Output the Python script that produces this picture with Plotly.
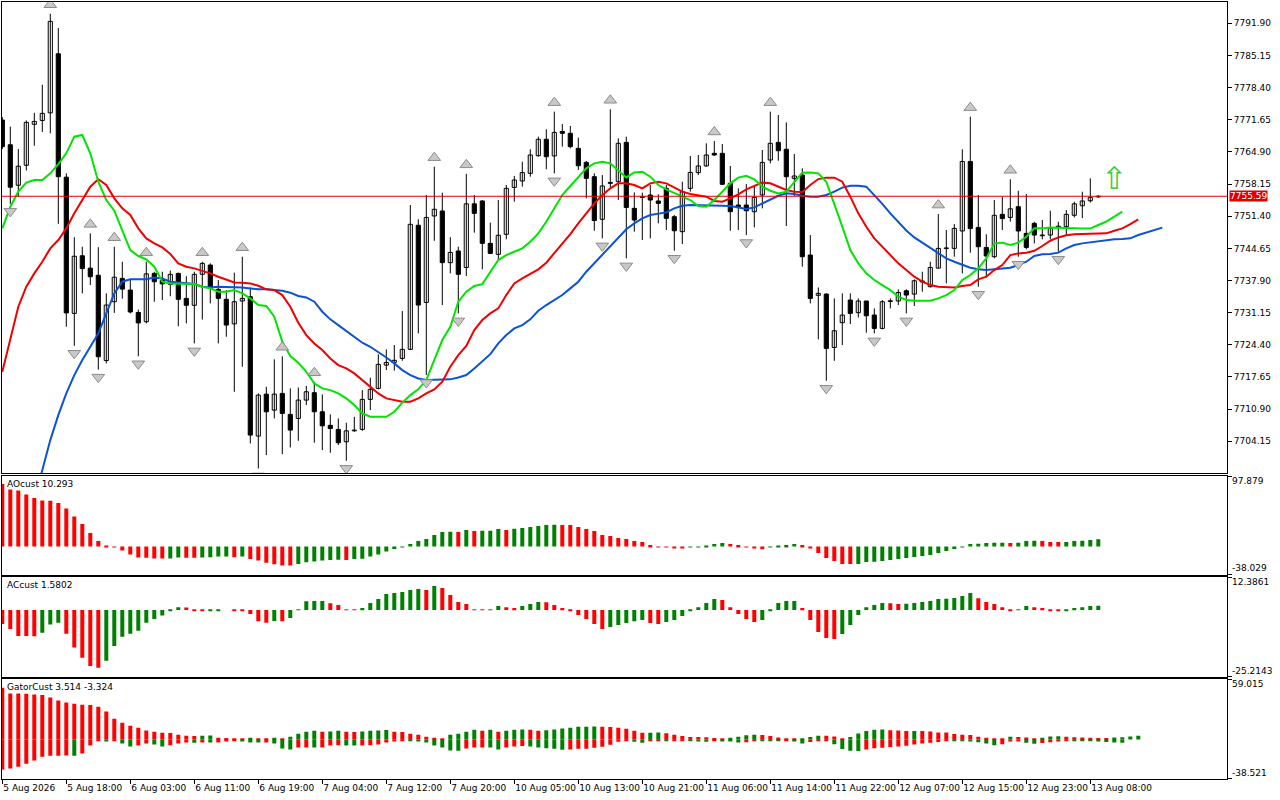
import plotly.graph_objects as go

# ---------------- data (H1 bars) ----------------
opens = [7771.6, 7766.4, 7757.9, 7762.1, 7770.7, 7771.5, 7773.1, 7785.5, 7759.6, 7731.0,
 7743.1, 7740.5, 7739.0, 7721.1, 7733.45, 7738.35, 7735.9, 7731.2, 7729.25, 7739.4,
 7738.0, 7737.1, 7739.4, 7734.15, 7732.7, 7739.2, 7741.15, 7736.05, 7733.95, 7728.8,
 7733.6, 7734.5, 7705.25, 7714.05, 7710.7, 7714.2, 7709.8, 7708.95, 7712.8, 7714.35,
 7710.35, 7707.5, 7706.65, 7704.05, 7706.35, 7706.65, 7712.95, 7715.25, 7720.15, 7720.7,
 7721.55, 7723.45, 7749.5, 7733.3, 7751.45, 7752.5, 7741.65, 7744.1, 7740.65, 7754.0,
 7754.6, 7745.7, 7743.4, 7747.6, 7757.45, 7758.8, 7760.4, 7764.1, 7767.55, 7764.05,
 7769.2, 7768.8, 7765.65, 7762.7, 7759.7, 7750.75, 7758.5, 7758.65, 7766.9, 7753.05,
 7755.35, 7755.85, 7754.6, 7757.25, 7751.3, 7748.15, 7757.25, 7760.55, 7761.95, 7764.6,
 7764.6, 7758.3, 7753.75, 7753.75, 7752.35, 7755.85, 7763.2, 7766.9, 7765.45, 7759.35,
 7760.05, 7743.25, 7734.8, 7735.05, 7723.85, 7729.05, 7733.8, 7731.15, 7733.6, 7730.65,
 7727.85, 7733.5, 7733.6, 7735.75, 7735.05, 7737.6, 7736.6, 7740.5, 7744.6, 7744.65,
 7748.3, 7762.9, 7749.05, 7744.85, 7742.9, 7751.8, 7751.15, 7753.4, 7747.8, 7749.9,
 7747.3, 7747.45, 7749.15, 7749.2, 7751.6, 7753.6, 7754.65, 7755.45]
highs = [7772.2, 7770.2, 7765.5, 7771.5, 7773.1, 7779.0, 7793.9, 7790.9, 7760.4, 7747.0,
 7745.0, 7747.8, 7744.9, 7735.2, 7745.0, 7741.85, 7738.0, 7731.8, 7741.85, 7739.75,
 7739.75, 7740.0, 7739.55, 7738.8, 7739.75, 7741.85, 7741.5, 7738.0, 7735.9, 7739.55,
 7742.9, 7736.45, 7714.2, 7715.6, 7721.35, 7722.0, 7715.25, 7715.45, 7715.8, 7716.65,
 7714.0, 7709.8, 7708.95, 7708.05, 7709.3, 7714.9, 7717.5, 7722.4, 7723.45, 7724.35,
 7731.5, 7753.75, 7750.75, 7755.85, 7761.8, 7756.35, 7747.0, 7745.0, 7760.3, 7755.85,
 7754.8, 7750.05, 7754.8, 7757.95, 7759.85, 7762.85, 7765.45, 7768.1, 7769.65, 7773.35,
 7770.75, 7770.35, 7767.9, 7763.0, 7760.4, 7760.05, 7773.85, 7767.75, 7768.1, 7756.4,
 7756.35, 7757.95, 7756.0, 7757.95, 7751.65, 7758.65, 7764.05, 7764.25, 7766.7, 7767.2,
 7766.55, 7761.95, 7757.25, 7758.15, 7757.6, 7765.3, 7773.35, 7772.65, 7771.1, 7764.45,
 7761.45, 7747.45, 7736.45, 7735.2, 7734.15, 7735.2, 7735.2, 7734.15, 7733.6, 7732.05,
 7733.8, 7734.15, 7736.05, 7736.05, 7738.15, 7739.75, 7741.85, 7751.85, 7748.5, 7749.75,
 7765.45, 7772.3, 7755.85, 7747.6, 7754.8, 7755.5, 7759.15, 7756.75, 7756.05, 7750.25,
 7750.6, 7752.55, 7750.25, 7752.7, 7754.45, 7756.55, 7759.35, 7755.8]
lows = [7765.5, 7754.0, 7755.5, 7761.0, 7766.2, 7769.1, 7768.8, 7749.8, 7728.2, 7724.2,
 7735.2, 7736.95, 7719.2, 7720.5, 7731.1, 7734.1, 7731.0, 7722.0, 7728.9, 7733.45,
 7733.8, 7734.6, 7728.3, 7728.9, 7724.7, 7729.7, 7733.1, 7724.7, 7726.1, 7714.55,
 7719.8, 7703.7, 7698.45, 7701.25, 7708.95, 7701.45, 7702.85, 7704.25, 7711.75, 7703.85,
 7702.3, 7701.75, 7703.35, 7700.05, 7706.15, 7706.35, 7710.7, 7715.05, 7719.1, 7719.0,
 7721.05, 7723.3, 7726.8, 7718.05, 7746.25, 7732.75, 7739.4, 7731.0, 7738.85, 7747.95,
 7740.25, 7743.45, 7742.2, 7746.55, 7754.45, 7757.6, 7759.7, 7763.9, 7761.25, 7760.4,
 7766.0, 7765.65, 7761.1, 7755.15, 7748.35, 7746.75, 7757.5, 7754.8, 7742.55, 7748.15,
 7746.4, 7746.75, 7749.9, 7748.5, 7744.15, 7745.55, 7756.55, 7760.05, 7761.8, 7764.05,
 7757.95, 7748.35, 7748.5, 7747.45, 7749.05, 7753.05, 7762.5, 7763.05, 7749.35, 7755.65,
 7740.8, 7733.1, 7725.55, 7716.85, 7721.05, 7724.35, 7728.75, 7730.15, 7726.95, 7726.8,
 7727.65, 7732.05, 7732.75, 7731.0, 7732.55, 7735.55, 7736.45, 7740.45, 7737.3, 7742.9,
 7739.4, 7743.75, 7736.6, 7738.55, 7742.55, 7748.5, 7750.25, 7742.9, 7744.45, 7745.7,
 7746.55, 7746.55, 7743.95, 7747.45, 7751.15, 7751.0, 7754.25, 7755.3]
closes = [7766.0, 7757.5, 7761.9, 7771.1, 7771.3, 7773.0, 7792.3, 7759.7, 7731.1, 7743.0,
 7740.4, 7738.7, 7721.9, 7732.75, 7738.6, 7736.1, 7731.3, 7729.0, 7739.3, 7737.65,
 7737.2, 7739.2, 7733.95, 7732.7, 7739.2, 7741.5, 7736.25, 7734.15, 7728.55, 7733.45,
 7734.15, 7705.45, 7713.85, 7710.35, 7714.05, 7710.0, 7706.5, 7712.8, 7714.55, 7710.35,
 7707.4, 7706.85, 7703.85, 7706.35, 7706.4, 7712.95, 7715.05, 7720.3, 7720.7, 7721.15,
 7723.45, 7749.7, 7732.75, 7751.15, 7752.85, 7741.65, 7743.8, 7739.2, 7754.0, 7752.0,
 7745.7, 7743.6, 7747.4, 7757.25, 7759.0, 7760.55, 7764.25, 7767.55, 7763.9, 7769.0,
 7768.8, 7766.0, 7762.0, 7759.35, 7750.5, 7757.75, 7758.3, 7766.7, 7753.25, 7750.6,
 7755.5, 7754.8, 7754.1, 7750.95, 7748.35, 7756.55, 7760.6, 7761.95, 7764.25, 7764.25,
 7758.1, 7752.35, 7753.4, 7752.55, 7755.35, 7762.7, 7766.7, 7765.15, 7759.7, 7759.85,
 7742.9, 7734.15, 7735.2, 7723.65, 7727.35, 7730.65, 7731.0, 7733.6, 7730.5, 7727.85,
 7733.45, 7733.65, 7735.4, 7734.85, 7737.85, 7737.8, 7740.65, 7744.65, 7744.7, 7748.85,
 7762.9, 7748.8, 7745.0, 7743.05, 7751.6, 7750.9, 7752.95, 7748.3, 7744.85, 7747.45,
 7747.45, 7748.85, 7749.3, 7751.8, 7754.0, 7754.6, 7755.35, 7755.59]

# Alligator lines (already shifted forward: lips +3, teeth +5, jaw +8)
lips = [7748.85, 7753.4, 7756.55, 7758.45, 7759.0, 7759.0, 7760.4, 7762.35, 7764.6, 7768.1,
 7768.45, 7764.6, 7758.65, 7754.8, 7752.55, 7748.5, 7744.3, 7743.05, 7742.35, 7740.8,
 7737.65, 7737.3, 7737.3, 7737.3, 7737.15, 7736.6, 7736.25, 7735.55, 7735.55, 7735.9,
 7735.2, 7734.15, 7732.75, 7732.55, 7730.3, 7725.05, 7722.05, 7720.65, 7718.75, 7716.3,
 7715.25, 7714.9, 7714.2, 7713.15, 7711.75, 7710.0, 7709.3, 7709.3, 7709.3, 7710.35,
 7712.25, 7713.85, 7715.05, 7717.0, 7721.2, 7725.4, 7728.2, 7733.45, 7735.55, 7736.75,
 7737.15, 7739.75, 7742.2, 7743.25, 7743.95, 7744.65, 7746.05, 7747.8, 7750.25, 7753.05,
 7755.85, 7757.75, 7759.7, 7761.45, 7762.5, 7762.85, 7762.5, 7761.1, 7759.55, 7760.6,
 7760.75, 7759.7, 7757.95, 7757.05, 7756.35, 7755.5, 7754.8, 7753.55, 7753.4, 7754.8,
 7756.55, 7758.3, 7759.5, 7759.9, 7759.15, 7757.6, 7756.75, 7756.2, 7756.55, 7758.45,
 7760.55, 7760.6, 7760.4, 7758.65, 7754.1, 7749.2, 7744.3, 7741.5, 7739.4, 7738.0,
 7736.95, 7735.9, 7734.5, 7733.8, 7733.65, 7733.65, 7733.65, 7734.15, 7734.85, 7735.9,
 7738.0, 7739.05, 7740.45, 7742.55, 7745.7, 7745.85, 7745.35, 7745.85, 7747.1, 7748.85,
 7748.85, 7749.05, 7749.05, 7749.0, 7748.9, 7748.8, 7748.8, 7749.55, 7750.25, 7751.3,
 7752.35]
teeth = [7718.75, 7725.4, 7732.4, 7736.6, 7739.4, 7741.85, 7744.65, 7746.4, 7748.85, 7752.0,
 7754.8, 7757.6, 7759.15, 7757.95, 7755.15, 7753.05, 7751.65, 7748.85, 7746.75, 7745.7,
 7744.85, 7743.45, 7741.5, 7740.8, 7740.45, 7739.95, 7739.4, 7738.7, 7738.15, 7737.5,
 7737.45, 7737.3, 7736.8, 7736.05, 7735.9, 7734.85, 7732.4, 7729.05, 7726.45, 7724.7,
 7723.3, 7721.55, 7720.15, 7719.45, 7718.4, 7717.0, 7715.6, 7714.2, 7713.15, 7712.8,
 7712.45, 7712.45, 7713.15, 7714.2, 7715.05, 7716.65, 7719.8, 7722.25, 7724.15, 7727.5,
 7729.6, 7731.0, 7732.05, 7734.85, 7737.3, 7738.35, 7739.25, 7740.25, 7741.65, 7743.6,
 7745.7, 7747.65, 7749.9, 7752.0, 7754.1, 7755.8, 7757.25, 7758.3, 7758.3, 7757.95,
 7757.25, 7758.3, 7758.65, 7758.3, 7757.45, 7756.55, 7756.05, 7755.85, 7755.5, 7754.6,
 7754.45, 7755.15, 7756.0, 7757.05, 7757.75, 7758.45, 7758.3, 7757.6, 7756.9, 7756.55,
 7756.5, 7757.95, 7759.2, 7759.5, 7759.5, 7758.65, 7755.5, 7752.0, 7749.2, 7746.75,
 7745.0, 7743.25, 7741.5, 7740.1, 7738.7, 7737.65, 7736.95, 7736.6, 7736.45, 7736.45,
 7736.75, 7736.95, 7738.15, 7738.7, 7740.1, 7741.15, 7743.25, 7743.6, 7743.75, 7744.15,
 7745.15, 7746.25, 7746.95, 7747.4, 7747.6, 7747.65, 7747.65, 7747.65, 7747.8, 7748.35,
 7748.85, 7749.75, 7750.75]
jaw = [None, None, None, 7685.5, 7691.8, 7697.75, 7704.4, 7709.65, 7714.2, 7718.05,
 7721.2, 7724.0, 7726.8, 7731.0, 7735.2, 7737.65, 7738.15, 7738.15, 7738.15, 7738.55,
 7738.35, 7737.65, 7737.45, 7737.3, 7737.15, 7736.6, 7736.45, 7736.6, 7736.6, 7736.6,
 7736.45, 7736.25, 7736.05, 7736.05, 7735.9, 7735.75, 7735.35, 7734.65, 7734.35, 7733.45,
 7731.35, 7729.75, 7728.55, 7727.35, 7726.1, 7724.85, 7724.0, 7722.95, 7721.75, 7720.5,
 7719.1, 7718.05, 7717.35, 7717.0, 7717.0, 7717.0, 7717.15, 7717.55, 7718.05, 7719.45,
 7721.05, 7722.45, 7724.7, 7726.45, 7727.85, 7728.55, 7729.75, 7731.55, 7732.75, 7733.8,
 7734.85, 7736.25, 7737.65, 7739.75, 7741.5, 7743.3, 7745.05, 7746.95, 7748.65, 7749.9,
 7750.95, 7751.65, 7752.0, 7752.2, 7753.05, 7753.6, 7753.75, 7753.75, 7753.6, 7753.6,
 7753.6, 7753.55, 7753.25, 7752.9, 7753.25, 7754.1, 7755.0, 7755.7, 7756.2, 7756.05,
 7755.7, 7755.5, 7755.5, 7755.85, 7756.55, 7757.4, 7757.8, 7757.8, 7757.6, 7755.9,
 7754.0, 7752.0, 7750.1, 7748.4, 7746.95, 7745.85, 7744.65, 7743.6, 7742.55, 7741.85,
 7741.15, 7740.6, 7740.25, 7740.1, 7740.25, 7740.45, 7740.6, 7741.15, 7741.85, 7743.05,
 7743.4, 7743.45, 7743.75, 7744.65, 7745.35, 7745.7, 7745.9, 7746.2, 7746.4, 7746.55,
 7746.6, 7746.75, 7747.45, 7747.95, 7748.35, 7749.0]

fractal_up_bars = [6, 11, 14, 18, 25, 30, 35, 39, 54, 58, 69, 76, 89, 96, 117, 121, 126]
fractal_down_bars = [1, 9, 12, 17, 24, 32, 43, 53, 57, 69, 75, 78, 84, 93, 103, 109, 113, 122, 127, 132]
signal_bar = 139
signal_price = 7758.8
bid_price = 7755.59

ao_values = [86.9, 79.0, 77.6, 72.1, 67.5, 63.8, 63.6, 60.5, 52.7, 41.6,
 31.4, 19.0, 7.9, 0.9, -0.9, -5.5, -11.1, -15.3, -15.4, -16.6,
 -16.7, -16.5, -15.3, -15.4, -15.5, -15.3, -14.8, -13.9, -13.8, -14.8,
 -13.9, -17.1, -19.4, -22.6, -24.5, -26.3, -26.4, -24.0, -21.7, -20.8,
 -19.4, -18.5, -18.4, -18.6, -17.1, -17.0, -13.9, -11.1, -6.9, -3.5,
 -0.5, 3.7, 7.9, 10.6, 16.2, 20.3, 20.4, 20.2, 23.1, 21.7,
 21.8, 21.9, 24.5, 23.1, 24.6, 25.9, 27.3, 28.7, 30.0, 30.1,
 29.9, 29.8, 27.3, 24.5, 21.7, 16.2, 14.8, 12.0, 10.6, 7.9,
 6.5, 2.3, -0.4, -0.5, -1.8, -1.9, -0.5, -0.4, 0.9, 3.7,
 5.1, 3.7, 2.3, -0.5, -1.4, -3.7, -0.5, 0.9, 2.3, 3.7,
 2.3, -1.8, -8.8, -15.7, -19.9, -24.0, -24.1, -24.0, -21.3, -21.2,
 -19.9, -18.5, -17.1, -15.7, -14.3, -12.9, -11.6, -8.8, -6.0, -3.2,
 -0.9, 3.7, 3.8, 5.1, 5.2, 5.3, 5.1, 5.2, 7.9, 8.0,
 7.8, 6.5, 6.4, 6.5, 7.9, 8.0, 9.2, 10.293]
ac_values = [-5.3, -7.2, -9.8, -9.85, -9.9, -8.6, -5.5, -4.8, -9.0, -14.2,
 -18.0, -21.2, -21.8, -19.2, -13.6, -10.1, -9.0, -7.8, -4.8, -3.4,
 -2.1, -0.1, 1.1, 1.0, -0.2, -0.3, -0.2, -0.1, 0.0, -0.2,
 -0.4, -1.5, -4.2, -4.8, -4.1, -4.2, -3.0, 0.25, 3.3, 3.4,
 3.45, 2.6, 1.9, 0.25, 0.2, 0.75, 2.65, 4.2, 6.05, 6.4,
 6.8, 7.6, 7.95, 7.6, 9.1, 8.3, 5.7, 3.0, 2.3, 0.25,
 0.2, 0.25, 1.5, 1.1, 0.75, 1.5, 2.3, 3.0, 2.95, 1.9,
 0.75, -0.25, -1.9, -3.4, -5.3, -7.2, -6.4, -5.7, -4.9, -4.2,
 -3.8, -4.9, -5.3, -4.5, -3.8, -2.3, -0.25, 1.1, 2.65, 4.2,
 3.8, 1.1, -1.5, -3.4, -4.5, -3.8, -0.25, 2.65, 3.4, 3.45,
 0.75, -3.8, -8.3, -10.6, -11.0, -9.1, -5.7, -1.9, 1.1, 1.9,
 2.65, 2.6, 2.3, 2.35, 2.65, 3.0, 3.4, 4.2, 4.25, 4.55,
 5.3, 6.4, 4.5, 3.0, 2.3, 1.1, -0.15, 0.25, 1.5, 1.1,
 0.75, -0.1, -0.15, -0.1, 0.75, 1.1, 1.5, 1.5802]
gator_upper = [50.7, 45.1, 45.1, 44.8, 44.1, 43.5, 41.2, 38.3, 36.3, 35.0,
 34.0, 33.7, 32.0, 27.5, 20.3, 16.4, 13.4, 11.4, 8.8, 7.5,
 6.5, 6.2, 4.6, 3.6, 3.3, 3.6, 3.9, 1.6, 1.3, 0.65,
 0.5, 1.6, 0.65, 0.5, 1.6, 0.3, 2.6, 5.6, 7.5, 8.5,
 7.5, 7.8, 8.5, 7.5, 7.4, 7.8, 8.5, 8.8, 9.2, 7.5,
 7.4, 5.6, 4.6, 2.6, 1.6, 0.65, 4.6, 5.6, 7.5, 9.5,
 8.5, 9.5, 7.5, 8.5, 9.5, 9.8, 9.4, 8.6, 8.9, 9.7,
 10.7, 11.4, 12.4, 12.5, 12.6, 12.5, 12.2, 11.4, 10.5, 8.5,
 6.5, 6.6, 6.7, 6.1, 4.6, 3.3, 2.5, 2.4, 2.2, 1.3,
 0.6, 1.6, 2.6, 4.2, 4.5, 4.35, 3.3, 1.9, 0.7, 0.5,
 0.8, 2.45, 3.7, 3.65, 2.95, 1.25, 2.3, 5.8, 8.4, 9.6,
 9.7, 9.1, 8.75, 8.25, 8.35, 8.2, 7.7, 6.8, 6.7, 5.3,
 4.6, 4.4, 2.6, 1.6, 0.65, 0.6, 2.6, 2.5, 1.9, 1.1,
 1.75, 2.8, 3.2, 2.75, 2.25, 1.95, 1.75, 1.45, 1.4, 1.8,
 2.2, 3.0, 3.514]
gator_lower = [-29.4, -28.4, -26.8, -23.9, -20.6, -17.0, -16.0, -16.0, -15.7, -16.0,
 -13.7, -5.9, -1.0, -2.0, -1.6, -3.9, -6.9, -5.9, -3.9, -4.9,
 -6.9, -5.6, -3.9, -2.9, -3.3, -2.9, -3.1, -2.9, -2.0, -1.0,
 -2.0, -2.9, -3.1, -2.9, -3.9, -8.8, -9.8, -7.8, -7.8, -8.0,
 -7.8, -5.9, -5.6, -5.9, -6.0, -5.9, -5.6, -4.9, -2.9, -2.0,
 -1.0, -1.1, -2.0, -2.9, -5.9, -7.8, -10.8, -11.0, -8.8, -7.8,
 -7.8, -7.9, -9.8, -7.8, -6.9, -6.4, -6.9, -7.9, -8.7, -9.2,
 -10.0, -9.8, -9.2, -9.2, -8.2, -7.2, -5.2, -2.3, -1.3, -2.3,
 -3.3, -1.3, -1.2, -1.25, -1.1, -1.05, -1.25, -2.1, -2.2, -1.0,
 -2.0, -2.1, -2.9, -2.85, -1.0, -1.05, -1.1, -1.15, -1.0, -1.9,
 -3.9, -2.6, -1.2, -0.85, -4.6, -9.45, -11.2, -11.3, -9.8, -8.75,
 -8.1, -7.35, -7.0, -6.3, -5.05, -4.0, -3.3, -2.45, -1.6, -1.7,
 -1.8, -2.1, -2.8, -3.9, -5.6, -4.6, -2.1, -2.0, -3.3, -4.3,
 -3.6, -2.8, -2.1, -1.6, -1.65, -1.7, -1.75, -2.0, -2.5, -2.9,
 -3.324]

time_tick_bars = [0, 8, 16, 24, 32, 40, 48, 56, 64, 72, 80, 88, 96, 104, 112, 120, 128, 136]
time_tick_labels = ["5 Aug 2026", "5 Aug 18:00", "6 Aug 03:00", "6 Aug 11:00", "6 Aug 19:00",
 "7 Aug 04:00", "7 Aug 12:00", "7 Aug 20:00", "10 Aug 05:00", "10 Aug 13:00",
 "10 Aug 21:00", "11 Aug 06:00", "11 Aug 14:00", "11 Aug 22:00", "12 Aug 07:00",
 "12 Aug 15:00", "12 Aug 23:00", "13 Aug 08:00"]
price_ticks = [7704.15, 7710.90, 7717.65, 7724.40, 7731.15, 7737.90, 7744.65,
 7751.40, 7758.15, 7764.90, 7771.65, 7778.40, 7785.15, 7791.90]
ao_scale = [-38.029, 97.879]
ac_scale = [-25.2143, 12.3861]
gator_scale = [-38.521, 59.015]

# ---------------- styling ----------------
W, H = 1280, 800
FONT = "DejaVu Sans, Verdana, sans-serif"
FS = 9
GREEN_BAR = "#008000"
RED_BAR = "#ff0000"
PX_PER_BAR = 8.0
X0_PX = 2.3  # pixel centre of bar 0


def dom(top_px, bot_px):
    return [1 - bot_px / H, 1 - top_px / H]


def updown(vals, use_abs=False):
    cols, prev = [], None
    for v in vals:
        if v is None:
            cols.append(RED_BAR)
            continue
        cur = abs(v) if use_abs else v
        cols.append(GREEN_BAR if (prev is not None and cur > prev) else RED_BAR)
        prev = cur
    return cols


n = len(closes)
idx = list(range(n))
plot_left, plot_right = 2, 1227
xr = [(plot_left - X0_PX) / PX_PER_BAR, (plot_right - X0_PX) / PX_PER_BAR]

# price axis mapping: 7791.90 at y=23.3px, 4.7635 px per point
pp = 4.7635
main_top, main_bot = 2.3, 473.3
yr_main = [7791.90 - (main_bot - 23.3) / pp, 7791.90 + (23.3 - main_top) / pp]

fig = go.Figure()

# wicks
wx, wy = [], []
for i in idx:
    wx += [i, i, None]
    wy += [lows[i], highs[i], None]
fig.add_trace(go.Scatter(x=wx, y=wy, mode="lines", line=dict(color="black", width=1),
                         hoverinfo="skip", xaxis="x", yaxis="y"))

# bodies
for bull in (True, False):
    bx, bb, bh = [], [], []
    for i in idx:
        o, c = opens[i], closes[i]
        if (c >= o) == bull:
            bx.append(i)
            bb.append(min(o, c))
            bh.append(max(abs(c - o), 0.15))
    fig.add_trace(go.Bar(x=bx, y=bh, base=bb, width=0.52,
                         marker=dict(color="white" if bull else "black",
                                     line=dict(color="black", width=1)),
                         hoverinfo="skip", xaxis="x", yaxis="y"))

# alligator
fig.add_trace(go.Scatter(x=list(range(len(jaw))), y=jaw, mode="lines",
                         line=dict(color="#0a52d6", width=2), xaxis="x", yaxis="y"))
fig.add_trace(go.Scatter(x=list(range(len(teeth))), y=teeth, mode="lines",
                         line=dict(color="#f00000", width=2), xaxis="x", yaxis="y"))
fig.add_trace(go.Scatter(x=list(range(len(lips))), y=lips, mode="lines",
                         line=dict(color="#00e400", width=2), xaxis="x", yaxis="y"))

# fractals
up_off = 9.0 / pp
dn_off = 7.5 / pp
fig.add_trace(go.Scatter(x=fractal_up_bars, y=[highs[i] + up_off for i in fractal_up_bars],
                         mode="markers",
                         marker=dict(symbol="triangle-up", size=11, color="#c8c8c8",
                                     line=dict(color="#8c8c8c", width=1)),
                         xaxis="x", yaxis="y"))
fig.add_trace(go.Scatter(x=fractal_down_bars, y=[lows[i] - dn_off for i in fractal_down_bars],
                         mode="markers",
                         marker=dict(symbol="triangle-down", size=11, color="#c8c8c8",
                                     line=dict(color="#8c8c8c", width=1)),
                         xaxis="x", yaxis="y"))
# signal arrow
fig.add_trace(go.Scatter(x=[signal_bar], y=[signal_price], mode="text", text=["\u21e7"],
                         textfont=dict(size=31, color="#3cc83c", family="DejaVu Sans"),
                         textposition="middle center", xaxis="x", yaxis="y"))

# AO
fig.add_trace(go.Bar(x=idx, y=ao_values, width=0.5, marker=dict(color=updown(ao_values), line=dict(width=0)),
                     xaxis="x2", yaxis="y2"))
# AC
fig.add_trace(go.Bar(x=idx, y=ac_values, width=0.5, marker=dict(color=updown(ac_values), line=dict(width=0)),
                     xaxis="x3", yaxis="y3"))
# Gator
fig.add_trace(go.Bar(x=list(range(len(gator_upper))), y=gator_upper, width=0.5,
                     marker=dict(color=updown(gator_upper), line=dict(width=0)),
                     xaxis="x4", yaxis="y4"))
fig.add_trace(go.Bar(x=list(range(len(gator_lower))), y=gator_lower, width=0.5,
                     marker=dict(color=updown(gator_lower, use_abs=True), line=dict(width=0)),
                     xaxis="x4", yaxis="y4"))


def panel_range(scale, top_px, bot_px, tick_top_px, tick_bot_px):
    lo, hi = scale
    k = (tick_bot_px - tick_top_px) / (hi - lo)
    return [lo - (bot_px - tick_bot_px) / k, hi + (tick_top_px - top_px) / k]


ao_top, ao_bot = 475.5, 574.7
ac_top, ac_bot = 577.3, 677.0
gt_top, gt_bot = 679.3, 778.7

axis_common = dict(showgrid=False, zeroline=False, showline=True, mirror=True,
                   linecolor="black", linewidth=1)
xcommon = dict(axis_common, range=xr, showticklabels=False, ticks="")
ycommon = dict(axis_common, side="right", ticks="outside", ticklen=4, tickcolor="black",
               tickwidth=1, fixedrange=True)

layout = dict(
    width=W, height=H, margin=dict(l=plot_left, r=W - plot_right, t=0, b=0),
    paper_bgcolor="white", plot_bgcolor="white", showlegend=False,
    barmode="overlay", hovermode=False, template="none",
    font=dict(family=FONT, size=FS, color="black"),
    xaxis=dict(xcommon, domain=[0, 1], anchor="y"),
    xaxis2=dict(xcommon, domain=[0, 1], anchor="y2"),
    xaxis3=dict(xcommon, domain=[0, 1], anchor="y3"),
    xaxis4=dict(axis_common, domain=[0, 1], anchor="y4", range=xr,
                tickmode="array", tickvals=time_tick_bars, ticktext=time_tick_labels,
                ticks="outside", ticklen=4, tickcolor="black", tickangle=0,
                ticklabelposition="outside right", tickfont=dict(size=FS), automargin=False),
    yaxis=dict(ycommon, domain=dom(main_top, main_bot), anchor="x", range=yr_main,
               tickmode="array", tickvals=price_ticks, automargin=False,
               ticktext=[f"{v:.2f}" for v in price_ticks], tickfont=dict(size=FS)),
    yaxis2=dict(ycommon, domain=dom(ao_top, ao_bot), anchor="x2",
                range=panel_range(ao_scale, ao_top, ao_bot, 476.0, 574.0),
                tickmode="array", tickvals=ao_scale, showticklabels=False),
    yaxis3=dict(ycommon, domain=dom(ac_top, ac_bot), anchor="x3",
                range=panel_range(ac_scale, ac_top, ac_bot, 577.3, 676.7),
                tickmode="array", tickvals=ac_scale, showticklabels=False),
    yaxis4=dict(ycommon, domain=dom(gt_top, gt_bot), anchor="x4",
                range=panel_range(gator_scale, gt_top, gt_bot, 679.3, 778.7),
                tickmode="array", tickvals=gator_scale, showticklabels=False),
)
fig.update_layout(**layout)

# bid line and label
fig.add_shape(type="line", xref="x domain", yref="y", x0=0, x1=1, y0=bid_price, y1=bid_price,
              line=dict(color="#e00000", width=1))
anns = [dict(xref="paper", yref="y", x=1, y=bid_price, xanchor="left", yanchor="middle",
             xshift=2, text=f"{bid_price:.2f}", showarrow=False, bgcolor="#e00000",
             font=dict(color="white", size=FS, family=FONT), borderpad=0)]

# indicator titles
titles = [("y2", f"AOcust {ao_values[-1]:g}"),
          ("y3", f"ACcust {ac_values[-1]:g}"),
          ("y4", f"GatorCust {gator_upper[-1]:g} {gator_lower[-1]:g}")]
for yref, txt in titles:
    anns.append(dict(xref="x domain", yref=f"{yref} domain", x=0, y=1, xanchor="left",
                     yanchor="top", xshift=3, yshift=-1, text=txt, showarrow=False,
                     font=dict(size=FS, family=FONT)))

# indicator scale labels
for yref, (lo, hi), dec in (("y2", ao_scale, 3), ("y3", ac_scale, 4), ("y4", gator_scale, 3)):
    anns.append(dict(xref="paper", yref=yref, x=1, y=hi, xanchor="left", yanchor="top",
                     xshift=3, yshift=2, text=f"{hi:.{dec}f}", showarrow=False,
                     font=dict(size=FS, family=FONT)))
    anns.append(dict(xref="paper", yref=yref, x=1, y=lo, xanchor="left", yanchor="bottom",
                     xshift=3, yshift=-1, text=f"{lo:.{dec}f}", showarrow=False,
                     font=dict(size=FS, family=FONT)))
fig.update_layout(annotations=anns)

fig.write_html("out.html", config={"displayModeBar": False},
               post_script="document.body.style.margin='0';document.body.style.padding='0';"
                           "document.documentElement.style.overflow='hidden';")
